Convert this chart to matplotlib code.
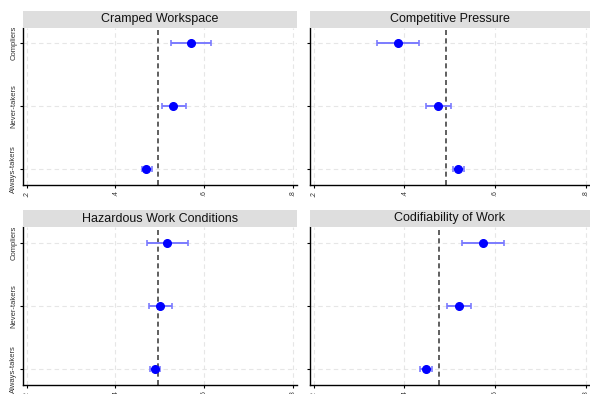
import matplotlib
matplotlib.use("Agg")
import matplotlib.pyplot as plt
from matplotlib.patches import Rectangle

plt.rcParams['font.family'] = ['Liberation Sans', 'DejaVu Sans']

groups = ["Always-takers", "Never-takers", "Compliers"]
xticks = [0.2, 0.4, 0.6, 0.8]
xtick_labels = [".2", ".4", ".6", ".8"]

titles = ["Cramped Workspace", "Competitive Pressure",
          "Hazardous Work Conditions", "Codifiability of Work"]

# estimates and confidence bounds, ordered as in `groups`
cramped_est = [0.470, 0.530, 0.570]
cramped_lo = [0.459, 0.504, 0.525]
cramped_hi = [0.483, 0.558, 0.616]
cramped_ref = 0.495

competitive_est = [0.519, 0.475, 0.386]
competitive_lo = [0.507, 0.448, 0.340]
competitive_hi = [0.532, 0.502, 0.433]
competitive_ref = 0.492

hazard_est = [0.489, 0.501, 0.517]
hazard_lo = [0.477, 0.475, 0.472]
hazard_hi = [0.501, 0.528, 0.563]
hazard_ref = 0.495

codif_est = [0.447, 0.520, 0.574]
codif_lo = [0.434, 0.494, 0.528]
codif_hi = [0.460, 0.547, 0.620]
codif_ref = 0.477

panels = [
    (cramped_est, cramped_lo, cramped_hi, cramped_ref),
    (competitive_est, competitive_lo, competitive_hi, competitive_ref),
    (hazard_est, hazard_lo, hazard_hi, hazard_ref),
    (codif_est, codif_lo, codif_hi, codif_ref),
]

W, H = 590, 394
fig = plt.figure(figsize=(W / 100, H / 100), dpi=100)

# panel boxes in pixel units: (left, right, top, bottom)
boxes = [(23, 297, 27.5, 185), (310, 590, 27.5, 185),
         (23, 297, 227, 385), (310, 590, 227, 385)]
bar_h = 17

for i, (box, (est, lo, hi, ref), title) in enumerate(zip(boxes, panels, titles)):
    x0, x1, y0, y1 = box
    ax = fig.add_axes([x0 / W, 1 - y1 / H, (x1 - x0) / W, (y1 - y0) / H])
    ypos = list(range(1, len(groups) + 1))

    ax.set_xlim(0.192, 0.809)
    ax.set_ylim(0.75, 3.25)

    ax.grid(True, color='#e6e6e6', linestyle=(0, (4, 3)), linewidth=0.8)
    ax.set_axisbelow(True)

    xerr = [[e - l for e, l in zip(est, lo)], [h - e for e, h in zip(est, hi)]]
    ax.errorbar(est, ypos, xerr=xerr, fmt='none', ecolor='#7b7bff',
                elinewidth=1.4, capsize=2, capthick=1.2, zorder=3)
    ax.plot(est, ypos, 'o', color='#0000ff', markersize=5.5, zorder=4)
    ax.axvline(ref, color='#444444', linestyle=(0, (3, 2)), linewidth=1.2, zorder=2)

    ax.set_xticks(xticks)
    ax.set_xticklabels(xtick_labels, rotation=90, fontsize=5, color='#333333')
    ax.set_yticks(ypos)
    if i % 2 == 0:
        ax.set_yticklabels(groups, rotation=90, va='center', fontsize=5.5,
                           color='#333333')
    else:
        ax.set_yticklabels([])
    ax.tick_params(axis='both', length=2.5, width=0.8, pad=1.5)

    for s in ('top', 'right'):
        ax.spines[s].set_visible(False)
    for s in ('left', 'bottom'):
        ax.spines[s].set_linewidth(1.0)

    # header strip above each panel
    fig.patches.append(Rectangle((x0 / W, 1 - y0 / H), (x1 - x0) / W, bar_h / H,
                                 transform=fig.transFigure, facecolor='#dedede',
                                 edgecolor='none'))
    fig.text((x0 + x1) / 2 / W, 1 - (y0 - bar_h / 2) / H, title,
             ha='center', va='center', fontsize=9, color='#111111')

fig.savefig("out.png", dpi=100)
